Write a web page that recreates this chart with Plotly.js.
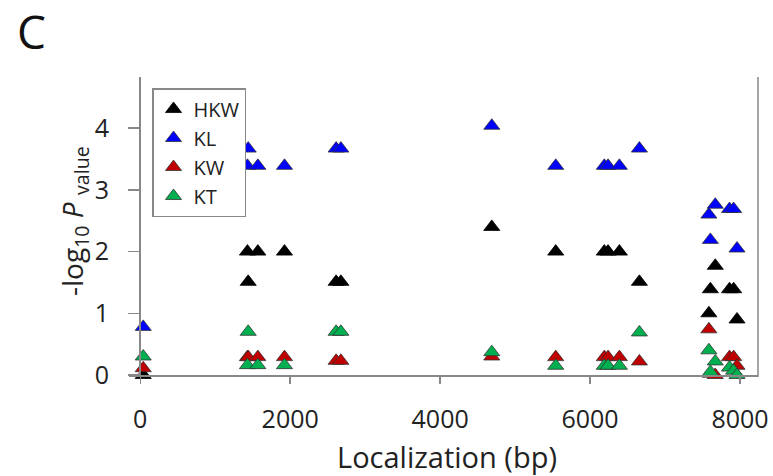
<!DOCTYPE html>
<html>
<head>
<meta charset="utf-8">
<script src="https://cdn.plot.ly/plotly-3.0.1.min.js"></script>
<style>html,body{margin:0;padding:0;background:#fff;}#chart{width:773px;height:476px;}</style>
</head>
<body>
<div id="chart"></div>
<script>
// SNP positions (bp)
var positions = [40, 1430, 1440, 1569, 1924, 2613, 2676, 4689, 5542, 6190, 6240, 6391, 6658, 7585, 7605, 7670, 7860, 7915, 7960];
// -log10 P values per test
var hkw = [0.00, 2.00, 1.51, 2.00, 2.00, 1.51, 1.51, 2.40, 2.00, 2.00, 2.00, 2.00, 1.51, 1.00, 1.39, 1.77, 1.39, 1.39, 0.90];
var kl  = [0.78, 3.39, 3.67, 3.39, 3.39, 3.67, 3.67, 4.04, 3.39, 3.39, 3.39, 3.39, 3.67, 2.60, 2.19, 2.76, 2.69, 2.69, 2.05];
var kw  = [0.11, 0.29, 0.29, 0.29, 0.29, 0.23, 0.23, 0.30, 0.29, 0.29, 0.29, 0.29, 0.22, 0.74, 0.02, 0.00, 0.29, 0.29, 0.15];
var kt  = [0.30, 0.16, 0.70, 0.16, 0.16, 0.70, 0.70, 0.37, 0.15, 0.15, 0.15, 0.15, 0.69, 0.40, 0.05, 0.22, 0.12, 0.07, 0.00];
var seriesNames = ['HKW', 'KL', 'KW', 'KT'];
var seriesValues = [hkw, kl, kw, kt];
var seriesColors = ['#000000', '#0000FF', '#C00000', '#00B050'];
var xTicks = [0, 2000, 4000, 6000, 8000];
var yTicks = [0, 1, 2, 3, 4];

var FONT = 'Open Sans, sans-serif';
var traces = seriesNames.map(function (name, i) {
  return {
    type: 'scatter', mode: 'markers', name: name,
    x: positions, y: seriesValues[i], cliponaxis: false,
    marker: { symbol: 'triangle-up', size: 14, color: seriesColors[i],
              line: { width: 0.8, color: i === 0 ? '#000' : '#333' } }
  };
});

var layout = {
  width: 773, height: 476,
  margin: { l: 129, r: 15, t: 77, b: 101 },
  paper_bgcolor: '#fff', plot_bgcolor: '#fff',
  font: { family: FONT, color: '#222' },
  showlegend: true,
  legend: { x: 0.0366, y: 0.963, xanchor: 'left', yanchor: 'top',
            bgcolor: '#fff', bordercolor: '#888', borderwidth: 1.5,
            font: { family: FONT, size: 20, color: '#222' }, itemwidth: 30 },
  xaxis: { range: [-150, 8240], tickvals: xTicks, ticktext: xTicks.map(String),
           ticks: 'outside', ticklen: 7, tickcolor: '#888', tickwidth: 1.5,
           showline: true, linecolor: '#888', linewidth: 1.5,
           showgrid: false, zeroline: false, ticklabelstandoff: 14,
           tickfont: { family: FONT, size: 25, color: '#222' } },
  yaxis: { range: [0, 4.83], tickvals: yTicks, ticktext: yTicks.map(String),
           anchor: 'free', position: 0.0159, side: 'left',
           ticks: 'outside', ticklen: 11, tickcolor: '#888', tickwidth: 1.5,
           showline: true, linecolor: '#888', linewidth: 1.5,
           showgrid: false, zeroline: false, ticklabelstandoff: 14,
           tickfont: { family: FONT, size: 25, color: '#222' } },
  shapes: [
    { type: 'line', xref: 'paper', yref: 'paper', x0: 1, x1: 1, y0: -0.007, y1: 1,
      line: { color: '#888', width: 1.5 } }
  ],
  annotations: [
    { text: 'C', xref: 'paper', yref: 'paper', x: -0.155, y: 1.153,
      xanchor: 'center', yanchor: 'middle', showarrow: false,
      font: { family: FONT, size: 46, color: '#111' } },
    { text: '-log<sub>10</sub> <i>P</i> <sub>value</sub>', xref: 'paper', yref: 'paper',
      x: -0.0874, y: 0.517, xanchor: 'center', yanchor: 'middle', textangle: -90,
      showarrow: false, font: { family: FONT, size: 28, color: '#222' } },
    { text: 'Localization (bp)', xref: 'paper', yref: 'paper', x: 0.5056, y: -0.272,
      xanchor: 'center', yanchor: 'middle', showarrow: false,
      font: { family: FONT, size: 29, color: '#222' } }
  ]
};

Plotly.newPlot('chart', traces, layout, { displayModeBar: false, staticPlot: true });
</script>
</body>
</html>
